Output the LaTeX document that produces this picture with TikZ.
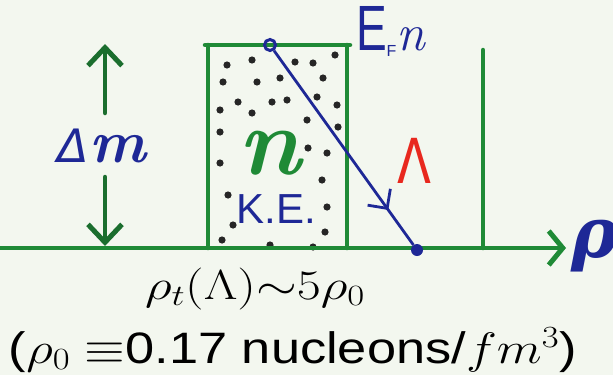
\RequirePackage{fix-cm}
\documentclass[tikz,border=0pt]{standalone}
\usepackage{fontspec}
\usepackage{graphicx}
\newfontfamily\arialf{Liberation Sans}
\newfontfamily\dejavuf{DejaVu Sans}
\newfontfamily\dvserif{DejaVu Serif}
\usetikzlibrary{arrows.meta,decorations.markings}
\definecolor{bgc}{HTML}{F3F7EF}
\definecolor{grn}{HTML}{1F8A36}
\definecolor{dgrn}{HTML}{1B6E2E}
\definecolor{nav}{HTML}{1E2896}
\definecolor{redl}{HTML}{E8281E}
\tikzset{
  gline/.style={draw=grn,line width=4.5pt,line cap=round},
  lbl/.style={inner sep=0pt,outer sep=0pt},
}
\begin{document}
\begin{tikzpicture}[x=1pt,y=-1pt]
\useasboundingbox (0,0) rectangle (613,375);
\fill[bgc] (0,0) rectangle (613,375);
% coordinates
\coordinate (ax0) at (0,248);
\coordinate (axE) at (566,248);
\coordinate (bl) at (208,248);
\coordinate (tl) at (208,45);
\coordinate (tr) at (347,45);
\coordinate (br) at (347,248);
\coordinate (topL) at (205,45);
\coordinate (topR) at (350,45);
\coordinate (vt) at (483,50);
\coordinate (vb) at (483,248);
\coordinate (uA) at (105,113);
\coordinate (uB) at (105,44);
\coordinate (dA) at (105,177);
\coordinate (dB) at (105,246);
% dots
\foreach \p in {(227,65),(252,60),(295,62),(313,63),(335,55),(223,82),(257,82),(280,78),(323,78),
  (238,102),(272,102),(287,100),(317,97),(337,105),(220,110),(252,113),(307,120),(338,127),
  (220,132),(327,153),(308,148),(220,163),(322,180),(228,195),(327,207),(233,225),(325,232),
  (222,240),(270,245),(313,247)}
  \fill[black!85] \p circle (3.6);
% axis
\draw[gline,-{Straight Barb[length=14pt,width=34pt,line width=5pt]}] (ax0) -- (axE);
% box
\draw[gline] (bl) -- (tl);
\draw[gline] (topL) -- (topR);
\draw[gline] (tr) -- (br);
% right vertical line
\draw[gline] (vt) -- (vb);
% delta m arrows
\draw[draw=dgrn,line width=4.5pt,line cap=round,-{Straight Barb[length=18pt,width=34pt,line width=5pt]}] (uA) -- (uB);
\draw[draw=dgrn,line width=4.5pt,line cap=round,-{Straight Barb[length=18pt,width=34pt,line width=5pt]}] (dA) -- (dB);
% Fermi line
\node[draw=nav,line width=3pt,circle,minimum size=11pt,inner sep=0pt] (ef) at (270,45) {};
\node[fill=nav,circle,minimum size=12pt,inner sep=0pt] (ed) at (417,250) {};
\draw[nav,line width=2.8pt,
  decoration={markings,mark=at position 0.82 with {\arrow{Straight Barb[length=14pt,width=28pt,line width=2.8pt]}}},
  postaction={decorate}] (ef) -- (ed);
% labels
\node[lbl,text=nav] (dm) at (102,146) {\dejavuf\itshape\fontsize{46}{48}\selectfont Δ\normalfont\itshape\bfseries\fontsize{60}{62}\selectfont m};
\node[lbl,text=grn,anchor=base] (nn) at (270,174) {\normalfont\itshape\bfseries\fontsize{96}{100}\selectfont n};
\node[lbl,text=nav] (ke) at (276,209) {\arialf\fontsize{42}{44}\selectfont K.E.};
\node[lbl,text=redl] (lam) at (414,161) {\scalebox{0.8}[1]{\dejavuf\fontsize{62}{64}\selectfont Λ}};
\node[lbl,text=nav,anchor=west] (efn) at (356,31) {\scalebox{0.72}[1]{\arialf\fontsize{64}{66}\selectfont E}\raisebox{-6pt}{\arialf\fontsize{16}{16}\selectfont F}\normalfont\itshape\fontsize{52}{54}\selectfont n};
\node[lbl,text=nav,anchor=west] (rho) at (571,246) {\dvserif\itshape\bfseries\fontsize{70}{72}\selectfont ρ};
\node[lbl,text=black] (l1) at (255,289) {\scalebox{1.25}[1]{\fontsize{42}{44}\selectfont$\rho_t(\Lambda){\sim}5\rho_0$}};
\node[lbl,text=black,anchor=base west] (l2) at (9,363) {\scalebox{1.19}[1]{\arialf\fontsize{44}{46}\selectfont($\rho_0$ $\equiv$0.17 nucleons/$fm^3$)}};
\end{tikzpicture}
\end{document}
